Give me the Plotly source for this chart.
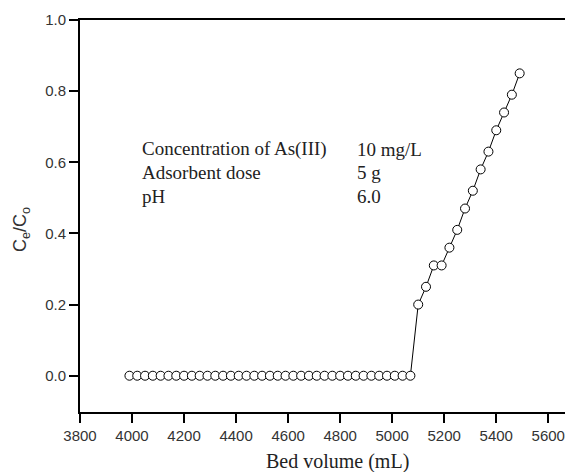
import plotly.graph_objects as go

bed_zero = [3990 + 30 * i for i in range(37)]
ratio_zero = [0.0] * 37
bed_rise = [5100, 5130, 5160, 5190, 5220, 5250, 5280, 5310, 5340, 5370, 5400, 5430, 5460, 5490]
ratio_rise = [0.20, 0.25, 0.31, 0.31, 0.36, 0.41, 0.47, 0.52, 0.58, 0.63, 0.69, 0.74, 0.79, 0.85]

bed_volume = bed_zero + bed_rise
ce_co = ratio_zero + ratio_rise

info_labels = ["Concentration of As(III)", "Adsorbent dose", "pH"]
info_values = ["10 mg/L", "5 g", "6.0"]
info_y = [0.637, 0.571, 0.505]

fig = go.Figure()
fig.add_trace(go.Scatter(
    x=bed_volume, y=ce_co, mode="lines+markers",
    line=dict(color="black", width=1),
    marker=dict(symbol="circle", size=9, color="white", line=dict(color="black", width=1)),
    showlegend=False,
))

for lab, val, yy in zip(info_labels, info_values, info_y):
    fig.add_annotation(x=4030, y=yy, text=lab, showarrow=False, xanchor="left", yanchor="middle",
                       font=dict(family="Liberation Serif", size=19, color="#222"))
    fig.add_annotation(x=4857, y=yy, text=val, showarrow=False, xanchor="left", yanchor="middle",
                       font=dict(family="Liberation Serif", size=19, color="#222"))

# axis titles placed as annotations to match reference positions
fig.add_annotation(xref="paper", yref="y", x=-0.1176, y=0.41, text="C<sub>e</sub>/C<sub>o</sub>",
                   textangle=-90, showarrow=False, xanchor="center", yanchor="middle",
                   font=dict(family="Liberation Sans", size=18, color="#333"))
fig.add_annotation(xref="paper", yref="paper", x=0.522, y=-0.127, text="Bed volume (mL)",
                   showarrow=False, xanchor="center", yanchor="middle",
                   font=dict(family="Liberation Serif", size=20, color="#222"))

# page body has an 8px margin, so the figure is sized/offset to fill the 573x472 window
fig.update_layout(
    width=565, height=464,
    margin=dict(l=72, r=0, t=12, b=60),
    paper_bgcolor="white", plot_bgcolor="white",
    xaxis=dict(range=[3800, 5695], tickmode="linear", tick0=3800, dtick=200, automargin=False,
               showgrid=False, zeroline=False, showline=True, linecolor="black", linewidth=2,
               mirror=True, ticks="outside", ticklen=9, tickwidth=2, tickcolor="black",
               tickfont=dict(family="Liberation Sans", size=15, color="#333")),
    yaxis=dict(range=[-0.102, 1.0], tickmode="linear", tick0=0, dtick=0.2, tickformat=".1f", automargin=False,
               showgrid=False, zeroline=False, showline=True, linecolor="black", linewidth=2,
               ticks="outside", ticklen=9, tickwidth=2, tickcolor="black",
               tickfont=dict(family="Liberation Sans", size=15, color="#333")),
)

fig.write_html("out.html")
